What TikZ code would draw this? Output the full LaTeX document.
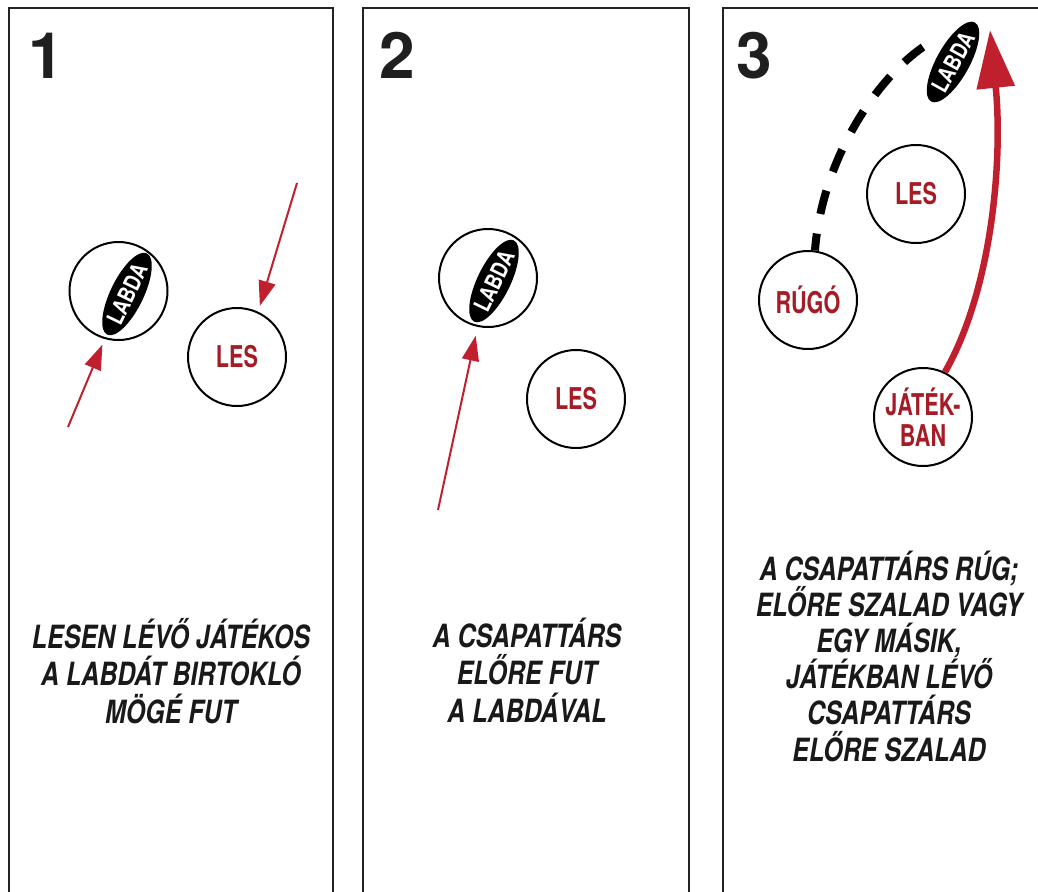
\documentclass[tikz,border=0pt]{standalone}
\usepackage{fontspec}
\usetikzlibrary{arrows.meta,shapes.geometric}
\newfontfamily\capfont[FakeStretch=0.78]{TeX Gyre Heros}
\newfontfamily\plrfont[FakeStretch=0.72]{TeX Gyre Heros}
\newfontfamily\ballfont[FakeStretch=0.8]{TeX Gyre Heros}
\newfontfamily\numfont{TeX Gyre Heros}
\definecolor{txtred}{RGB}{165,28,38}
\definecolor{arrred}{RGB}{192,32,45}
\definecolor{frame}{RGB}{35,35,35}
\tikzset{
  panel/.style={draw=frame,line width=2.6pt},
  num/.style={anchor=base west,inner sep=0pt,font=\numfont\bfseries\fontsize{64}{64}\selectfont,text=black!88},
  caption/.style={align=center,inner sep=0pt,font=\capfont\bfseries\itshape\fontsize{32}{37.5}\selectfont,text=black!90},
  player/.style={circle,draw=black,line width=2pt,minimum size=98pt,inner sep=0pt,text=txtred,font=\plrfont\bfseries\fontsize{30}{31}\selectfont,align=center},
  ringonly/.style={circle,draw=black,line width=2pt,minimum size=98pt,inner sep=0pt},
  ball/.style={ellipse,fill=black,minimum width=88pt,minimum height=33pt,inner sep=0pt,rotate=64,text=white,font=\ballfont\bfseries\fontsize{23}{23}\selectfont},
  thinarrow/.style={draw=arrred,line width=2pt,-{Triangle[length=25pt,width=17pt]}},
  bigarrow/.style={draw=arrred,line width=6.5pt,-{Triangle[length=58pt,width=37pt]}},
  kick/.style={draw=black,line width=8pt,dash pattern=on 24pt off 20pt,dash phase=7pt}
}
\begin{document}
\begin{tikzpicture}[x=1pt,y=-1pt]
\useasboundingbox (0,0) rectangle (1038,891);
\clip (0,0) rectangle (1038,891);
% panels
\draw[panel] (9,8) rectangle (333,920);
\draw[panel] (363,8) rectangle (689,920);
\draw[panel] (723,8) rectangle (1049,920);
\node[num] (n1) at (28,78) {1};
\node[num] (n2) at (379,78) {2};
\node[num] (n3) at (736,78) {3};
% panel 1
\node[ringonly] (ring1) at (118.5,291) {};
\node[ball] (ball1) at (127,294) {LABDA};
\node[player] (les1) at (237,357) {LES};
\coordinate (s1a) at (68,427);
\coordinate (s1b) at (297,183);
\draw[thinarrow,shorten >=6pt] (s1a) -- (ring1.-106);
\draw[thinarrow,shorten >=6pt] (s1b) -- (les1.65);
\node[caption] (cap1) at (171,671) {LESEN LÉVŐ JÁTÉKOS\\A LABDÁT BIRTOKLÓ\\MÖGÉ FUT};
% panel 2
\node[ringonly] (ring2) at (488,278) {};
\node[ball] (ball2) at (494,281) {LABDA};
\node[player] (les2) at (576,399) {LES};
\coordinate (s2) at (438,510);
\draw[thinarrow,shorten >=9pt] (s2) -- (ring2.-102);
\node[caption] (cap2) at (527,670) {A CSAPATTÁRS\\ELŐRE FUT\\A LABDÁVAL};
% panel 3
\node[ball,rotate=-3] (ball3) at (953,62) {LABDA};
\node[player] (les3) at (916,194) {LES};
\node[player] (rugo) at (808,300) {RÚGÓ};
\node[player] (jatek) at (923,417) {JÁTÉK-\\BAN};
\coordinate (kickend) at (926,45);
\draw[kick] (rugo.82) .. controls (822,160) and (876,78) .. (kickend);
\draw[bigarrow] (jatek.64) .. controls (992,290) and (1003,160) .. (990,30);
\node[caption,font=\capfont\bfseries\itshape\fontsize{32}{36.2}\selectfont] (cap3) at (889,656) {A CSAPATTÁRS RÚG;\\ELŐRE SZALAD VAGY\\EGY MÁSIK,\\JÁTÉKBAN LÉVŐ\\CSAPATTÁRS\\ELŐRE SZALAD};
\end{tikzpicture}
\end{document}
